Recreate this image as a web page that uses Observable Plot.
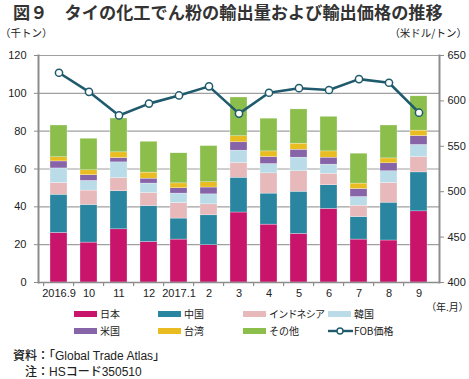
<!DOCTYPE html>
<html><head><meta charset="utf-8">
<script src="https://cdn.jsdelivr.net/npm/d3@7"></script>
<script src="https://cdn.jsdelivr.net/npm/@observablehq/plot@0.6"></script>
<style>
body{margin:0;background:#fff;width:469px;height:379px;position:relative;overflow:hidden;font-family:"Liberation Sans","Noto Sans CJK JP",sans-serif;color:#222;}
.abs{position:absolute;white-space:nowrap;line-height:1;}
#title{left:13px;top:3px;font-family:"Noto Sans CJK JP";font-weight:bold;font-size:17.2px;color:#333;}
.unit{top:28px;font-size:10.5px;font-family:"Noto Sans CJK JP";}
#chart{position:absolute;left:0;top:42px;}
.leg{font-size:10px;font-family:"Noto Sans CJK JP";}
.sw{position:absolute;width:23px;height:6px;}
.src{font-size:12px;font-family:"Liberation Sans","Noto Sans CJK JP";font-weight:500;color:#222}
</style></head><body>
<div id="title" class="abs">図９　タイの化工でん粉の輸出量および輸出価格の推移</div>
<div class="abs unit" style="left:0px">（千トン）</div>
<div class="abs unit" style="right:2px">（米ドル/トン）</div>
<div id="chart"></div>
<div class="abs leg" style="left:431px;top:302px;font-feature-settings:'palt';">（年.月）</div>
<div id="legend"></div>
<div class="abs src" style="left:13px;top:350px">資料：「Global Trade Atlas」</div>
<div class="abs src" style="left:25px;top:366px">注：HSコード350510</div>
<script>
const months = ["2016.9","10","11","12","2017.1","2","3","4","5","6","7","8","9"];
const seriesNames = ["日本","中国","インドネシア","韓国","米国","台湾","その他"];
const japan     = [26.2,21.1,28.1,21.4,22.7,19.7,37.0,30.6,25.7,38.9,22.7,22.2,37.6];
const china     = [20.2,19.9,20.1,19.0,11.1,15.8,18.4,16.4,22.3,12.5,11.9,20.0,20.6];
const indonesia = [6.2,7.6,7.0,6.9,8.2,5.8,7.8,10.7,10.8,6.1,6.0,10.4,8.1];
const korea     = [7.7,5.1,8.3,5.0,5.0,5.3,6.5,4.9,7.2,4.8,4.6,6.2,6.4];
const usa       = [3.7,3.0,2.3,2.6,2.8,3.6,4.4,3.7,4.2,3.7,4.2,4.2,4.7];
const taiwan    = [2.2,2.6,3.0,3.2,2.6,2.8,3.2,3.0,3.2,3.3,2.9,2.6,2.9];
const others    = [16.8,16.7,17.9,16.3,15.9,19.1,20.5,17.3,18.1,18.3,15.8,17.4,18.1];
const fob       = [631,610,584,597,606,616,586,609,614,612,624,620,587];
const leftTicks = [0,20,40,60,80,100,120];
const rightTicks = [400,450,500,550,600,650];
const colors = ["#c8156b","#2a86a0","#e8b9ba","#b9dce8","#8764a8","#e9bd22","#8bbe4b"];
const lineColor = "#1f5a6d";

const seriesValues = [japan,china,indonesia,korea,usa,taiwan,others];
const rows = [];
seriesValues.forEach((vals,si)=>vals.forEach((v,mi)=>rows.push({month:months[mi],series:seriesNames[si],value:v})));
const toLeft = p => (p-400)/250*120;
const fromLeft = v => Math.round(v/120*250+400);
const priceRows = months.map((m,i)=>({month:m,v:toLeft(fob[i])}));

const W=469, mL=38, mR=30;
const step=(W-mL-mR)/months.length;
const gridColor="#a0a0a0", axisColor="#8c8c8c";

const plot = Plot.plot({
  width:W, height:258, marginLeft:mL, marginRight:mR, marginTop:13, marginBottom:18,
  style:{fontFamily:'"Liberation Sans","Noto Sans CJK JP",sans-serif',fontSize:"11px",color:"#222",background:"transparent"},
  x:{type:"band",domain:months,paddingInner:0.44,paddingOuter:0.22,label:null},
  y:{domain:[0,120],label:null},
  color:{domain:seriesNames,range:colors},
  marks:[
    Plot.gridY(leftTicks.slice(1),{stroke:gridColor,strokeOpacity:1,strokeWidth:1.2}),
    Plot.barY(rows,{x:"month",y:"value",fill:"series",stroke:"#fff",strokeWidth:0.4,strokeOpacity:0.7}),
    Plot.ruleY([0],{stroke:axisColor,strokeWidth:1.5}),
    Plot.frame({anchor:"left",stroke:axisColor,strokeWidth:2}),
    Plot.frame({anchor:"right",stroke:axisColor,strokeWidth:2}),
    Plot.ruleX(months,{x:d=>d,y1:0,y2:0,dx:-step/2,insetBottom:-4,stroke:axisColor,strokeWidth:1.2}),
    Plot.axisY(leftTicks,{anchor:"left",tickSize:4,tickPadding:8,stroke:axisColor,label:null,fontSize:11}),
    Plot.axisY(rightTicks.map(toLeft),{anchor:"right",tickSize:4,tickPadding:4,stroke:axisColor,tickFormat:fromLeft,label:null,fontSize:11}),
    Plot.axisX({tickSize:0,tickPadding:7,label:null,fontSize:11}),
    Plot.line(priceRows,{x:"month",y:"v",stroke:lineColor,strokeWidth:2.6}),
    Plot.dot(priceRows,{x:"month",y:"v",r:3.6,fill:"#fff",stroke:lineColor,strokeWidth:1.5})
  ]
});
document.getElementById("chart").appendChild(plot);

// legend
const legItems = seriesNames.map((n,i)=>({name:n,color:colors[i]})).concat([{name:"FOB価格",line:true}]);
const colX=[74,158,243,328], rowY=[311,328];
const leg=document.getElementById("legend");
legItems.forEach((it,i)=>{
  const c=i%4, r=Math.floor(i/4);
  const sw=document.createElement("div");
  if(it.line){
    sw.innerHTML=`<svg width="26" height="10" style="position:absolute;left:${colX[c]}px;top:${rowY[r]-2}px"><line x1="0" y1="5" x2="25" y2="5" stroke="${lineColor}" stroke-width="2.4"/><circle cx="12" cy="5" r="3" fill="#fff" stroke="${lineColor}" stroke-width="1.4"/></svg>`;
  } else {
    sw.className="sw"; sw.style.left=colX[c]+"px"; sw.style.top=rowY[r]+"px"; sw.style.background=it.color;
  }
  leg.appendChild(sw);
  const t=document.createElement("div");
  t.className="abs leg"; t.textContent=it.name;
  t.style.left=(colX[c]+26)+"px"; t.style.top=(rowY[r]-2)+"px";
  if(it.name==="インドネシア") t.style.letterSpacing="-0.8px";
  leg.appendChild(t);
});
</script>
</body></html>
